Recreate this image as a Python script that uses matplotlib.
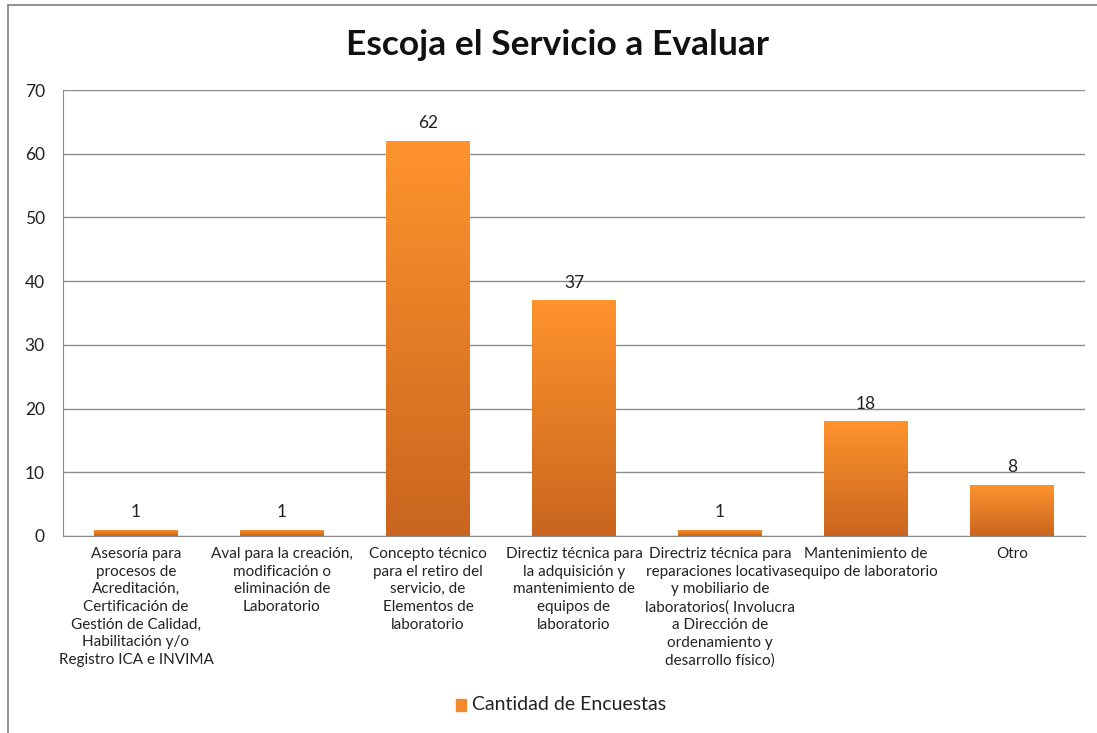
"""
Bar chart: Escoja el Servicio a Evaluar
"""

import numpy as np
import matplotlib
matplotlib.use('Agg')
import matplotlib.pyplot as plt
from matplotlib.colors import LinearSegmentedColormap
from matplotlib.patches import Rectangle

plt.rcParams['font.family'] = ['Lato', 'DejaVu Sans']

categories = [
    'Asesoría para\nprocesos de\nAcreditación,\nCertificación de\nGestión de Calidad,\nHabilitación y/o\nRegistro ICA e INVIMA',
    'Aval para la creación,\nmodificación o\neliminación de\nLaboratorio',
    'Concepto técnico\npara el retiro del\nservicio, de\nElementos de\nlaboratorio',
    'Directiz técnica para\nla adquisición y\nmantenimiento de\nequipos de\nlaboratorio',
    'Directriz técnica para\nreparaciones locativas\ny mobiliario de\nlaboratorios( Involucra\na Dirección de\nordenamiento y\ndesarrollo físico)',
    'Mantenimiento de\nequipo de laboratorio',
    'Otro',
]
values = [1, 1, 62, 37, 1, 18, 8]
series_name = 'Cantidad de Encuestas'
title = 'Escoja el Servicio a Evaluar'

fig = plt.figure(figsize=(10.97, 7.33), dpi=100)
ax = fig.add_axes([0.0574, 0.2688, 0.9316, 0.6084])

# outer chart frame
fig.patches.append(Rectangle((8 / 1097, -0.01), 1.05, 1 - 5 / 733 + 0.01,
                             transform=fig.transFigure, fill=False,
                             edgecolor='#7f7f7f', linewidth=1.2))

x = np.arange(len(values))
bars = ax.bar(x, values, width=0.575, color='none', edgecolor='none', zorder=3)

cmap = LinearSegmentedColormap.from_list('orng', ['#c9651e', '#ff932e'])
grad = np.linspace(0, 1, 256).reshape(-1, 1)
for bar in bars:
    x0, w, h = bar.get_x(), bar.get_width(), bar.get_height()
    im = ax.imshow(grad, cmap=cmap, origin='lower', aspect='auto',
                   extent=(x0, x0 + w, 0, h), zorder=3)
    im.set_clip_path(bar)

for xi, v in zip(x, values):
    ax.text(xi, v + 1.5, str(v), ha='center', va='bottom', fontsize=12.5,
            color='#222222', zorder=4)

ax.set_xlim(-0.5, len(values) - 0.5)
ax.set_ylim(0, 70)
ax.set_yticks(range(0, 71, 10))
ax.tick_params(axis='y', length=0, labelsize=12.5, pad=13, colors='#222222')
ax.set_xticks(x)
ax.set_xticklabels(categories, fontsize=11, color='#222222', linespacing=1.33)
ax.tick_params(axis='x', length=0, pad=8)

ax.yaxis.grid(True, color='#8c8c8c', linewidth=1.0)
ax.set_axisbelow(True)
for side in ['top', 'right']:
    ax.spines[side].set_visible(False)
ax.spines['left'].set_color('#8c8c8c')
ax.spines['bottom'].set_color('#8c8c8c')

fig.text(0.508, 0.938, title, ha='center', va='center', fontsize=25.5,
         fontweight='bold', color='#111111')

# legend at the bottom
fig.patches.append(Rectangle((456 / 1097, 1 - 711 / 733), 10 / 1097, 12 / 733,
                             transform=fig.transFigure, color='#f08a2c'))
fig.text(472 / 1097, 1 - 705 / 733, series_name, ha='left', va='center',
         fontsize=14, color='#222222')

plt.savefig('out.png', dpi=100)
plt.close()
